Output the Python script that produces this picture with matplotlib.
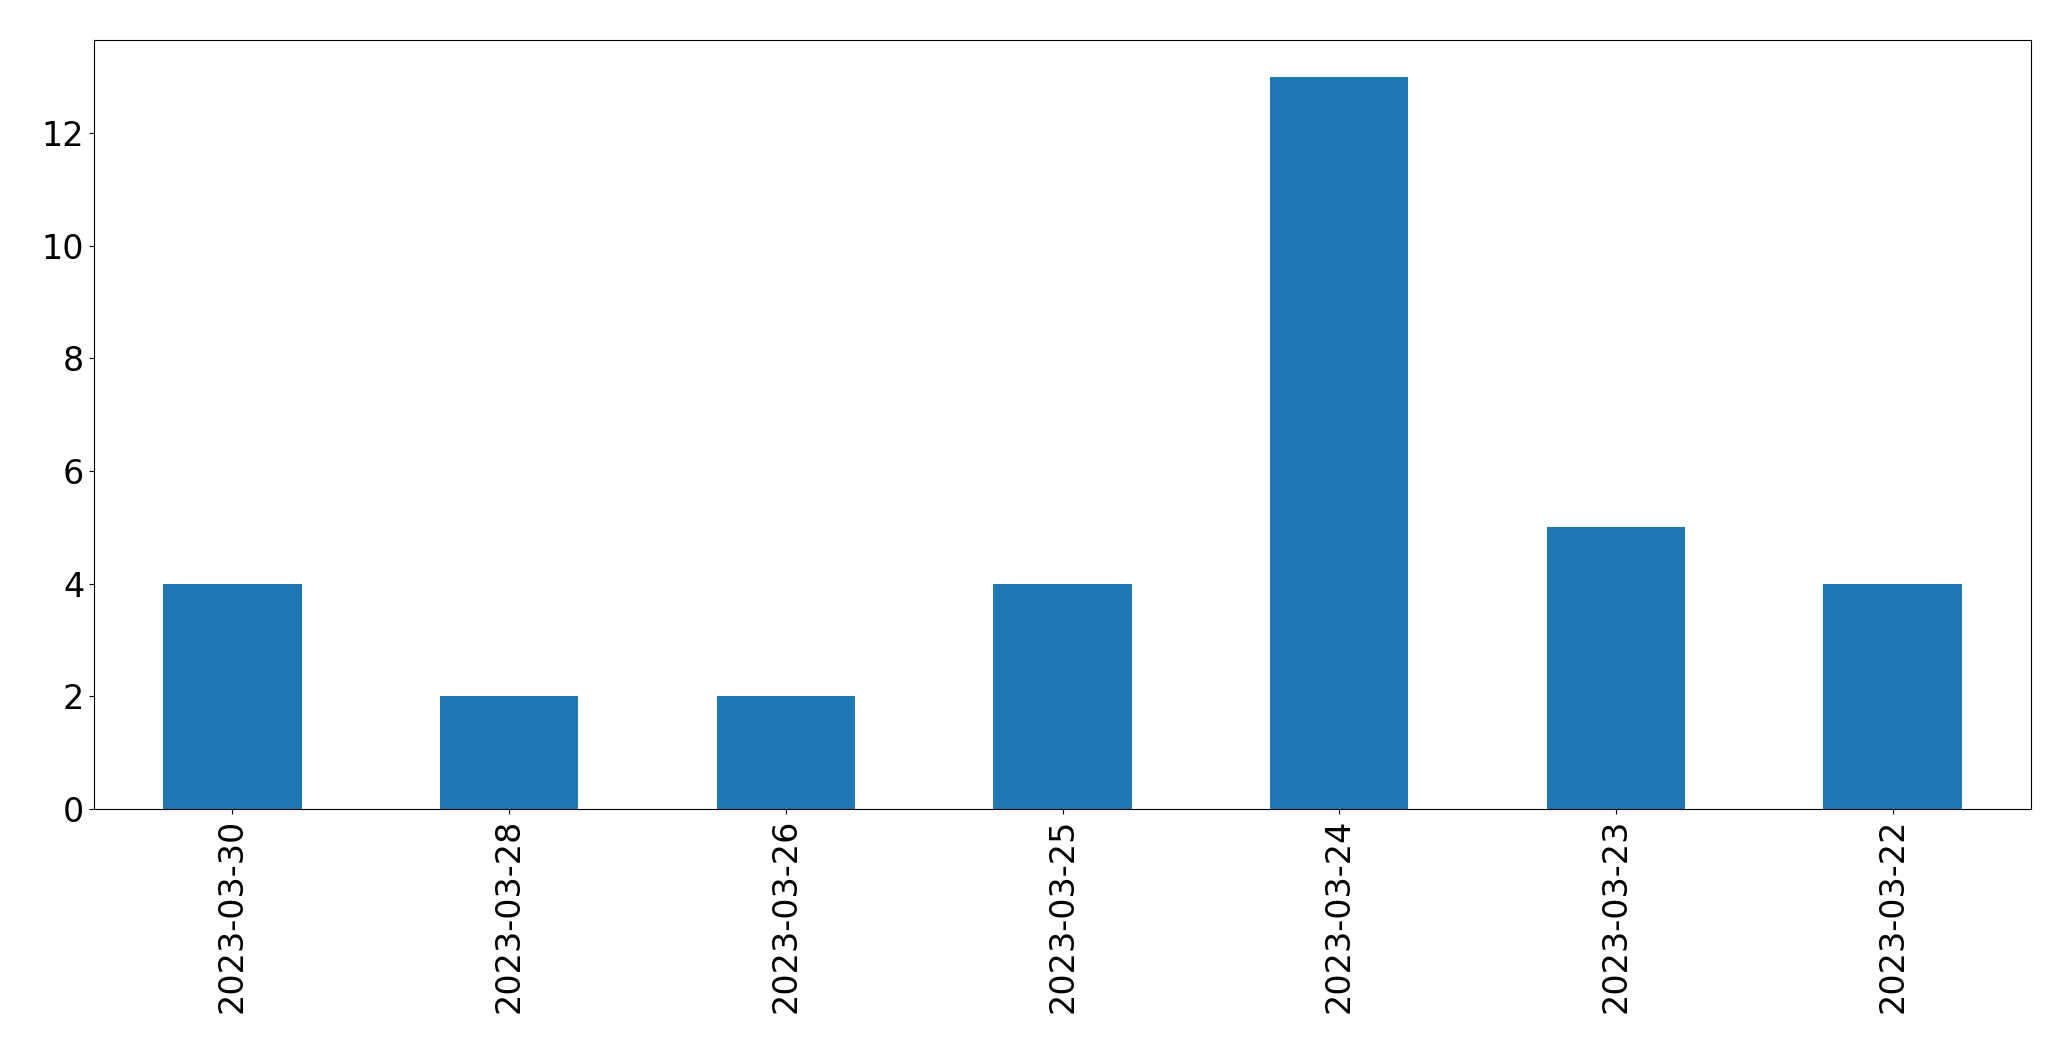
import matplotlib
matplotlib.use("Agg")
import matplotlib.pyplot as plt
import pandas as pd

dates = ["2023-03-30", "2023-03-28", "2023-03-26", "2023-03-25",
         "2023-03-24", "2023-03-23", "2023-03-22"]
counts = [4, 2, 2, 4, 13, 5, 4]

s = pd.Series(counts, index=dates)

fig = plt.figure(figsize=(20.71, 10.61), dpi=100)
ax = fig.add_axes([0.0454, 0.2375, 0.9353, 0.7245])
s.plot(kind="bar", ax=ax, color="#1f77b4")
ax.tick_params(axis="both", labelsize=24)
plt.savefig("out.png", dpi=100)
